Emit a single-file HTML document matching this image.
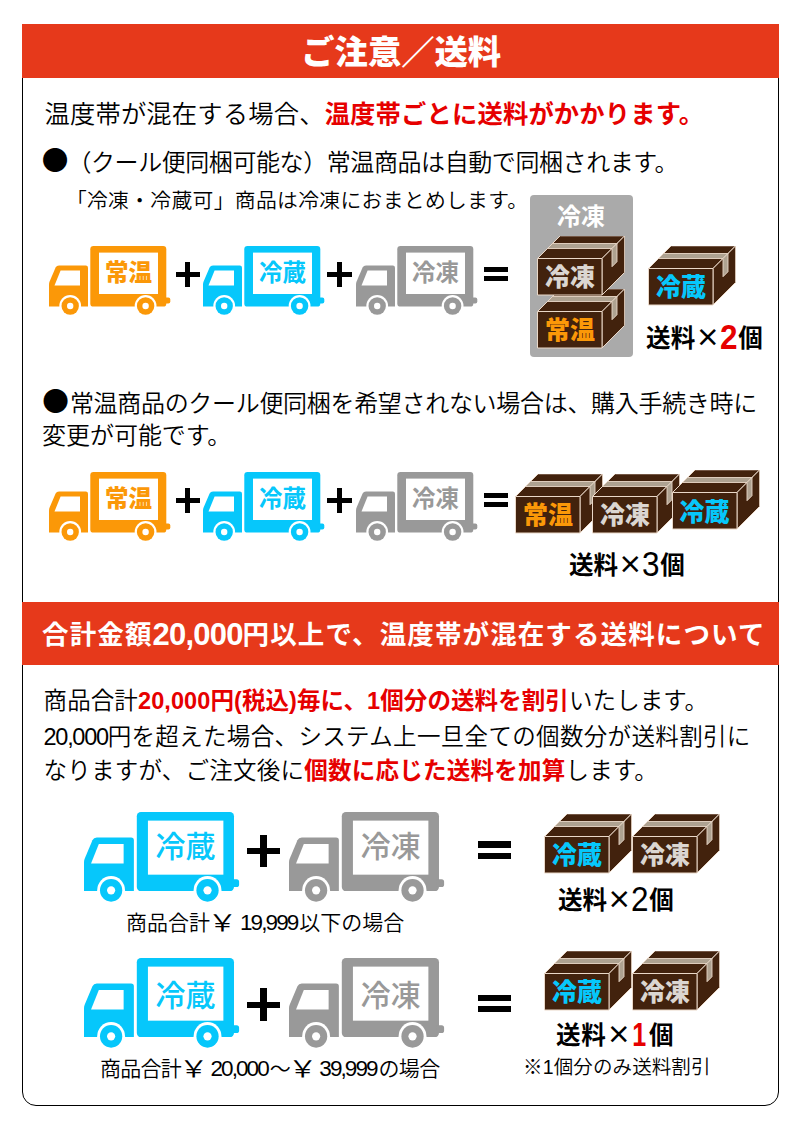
<!DOCTYPE html>
<html lang="ja">
<head>
<meta charset="utf-8">
<title>ご注意／送料</title>
<style>
html,body{margin:0;padding:0;background:#fff;}
body{width:800px;height:1135px;position:relative;overflow:hidden;
  font-family:"Liberation Sans","Noto Sans CJK JP",sans-serif;color:#000;}
.abs{position:absolute;}
.frame{position:absolute;left:22px;top:30px;width:755px;height:1073.5px;border:1px solid #000;border-radius:0 0 14px 14px;}
.hd{position:absolute;left:21.5px;width:757.5px;background:#e6391b;}
.w{color:#fff;}
.t{position:absolute;white-space:nowrap;line-height:1;}
.r{font-family:"Liberation Sans","Noto Sans CJK JP DemiLight","Noto Sans CJK JP",sans-serif;}
.red{color:#e60000;font-weight:700;font-family:"Liberation Sans","Noto Sans CJK JP",sans-serif;}
.b{font-weight:700;}
.sym{font-family:"Noto Sans CJK JP",sans-serif;}
.dot{font-family:"Noto Sans CJK JP",sans-serif;font-size:26.6px;display:inline-block;width:24.5px;text-indent:-1.2px;vertical-align:1px;line-height:24px;}
.truck{position:absolute;}
.orange{color:#fb9808;}
.cyan{color:#06c7fb;}
.gray{color:#999999;}
.lbl{position:absolute;white-space:nowrap;line-height:1;text-align:center;}
.op{position:absolute;background:#000;}
.box{position:absolute;}
.x{font-family:"Noto Sans CJK JP",sans-serif;font-weight:700;}
.n{font-weight:400;font-size:35px;vertical-align:-2.5px;margin:0 0 0 -1.5px;display:inline-block;transform:scaleX(.9);}
.n.red{font-weight:700;}
.n.one{font-size:33px;margin:0 0 0 -2px;transform:scaleX(.76);}
.boxt{position:absolute;white-space:nowrap;line-height:1;font-weight:900;text-align:center;}
.panel{position:absolute;left:529.5px;top:195px;width:103px;height:161.5px;background:#aaaaaa;border-radius:4px;}
#h2 .d{font-size:31px;vertical-align:-1px;letter-spacing:-0.8px;}
#l7 .d{letter-spacing:-1.3px;}
.cap .d{font-size:22.5px;letter-spacing:-1.9px;margin-right:1.9px;}
.yen{display:inline-block;transform:scale(1.4,1.1);margin:0 7.5px 0 1.5px;}
</style>
</head>
<body>
<svg width="0" height="0" style="position:absolute">
  <defs>
    <symbol id="truck" viewBox="0 0 122 72" overflow="visible">
      <rect x="41.3" y="0" width="76" height="60.6" rx="3.2" fill="currentColor"/>
      <rect x="50" y="6.6" width="59" height="41.4" fill="#fff"/>
      <rect x="115" y="51.5" width="6.3" height="6" rx="2" fill="currentColor"/>
      <path d="M0 60.6 V38.5 Q0 37 .6 35.6 L6.6 21.6 Q7.6 19.5 10 19.5 H36.8 Q39 19.5 39 21.7 V60.6 Z" fill="currentColor"/>
      <path d="M5.5 39.5 L11.6 24.5 H31 V39.5 Z" fill="#fff"/>
      <circle cx="21.2" cy="60" r="10.9" fill="#fff"/>
      <circle cx="21.2" cy="60" r="8.7" fill="currentColor"/>
      <circle cx="21.2" cy="60" r="3.2" fill="#fff"/>
      <circle cx="96.6" cy="60" r="10.9" fill="#fff"/>
      <circle cx="96.6" cy="60" r="8.7" fill="currentColor"/>
      <circle cx="96.6" cy="60" r="3.2" fill="#fff"/>
    </symbol>
    <symbol id="carton" viewBox="0 0 88 60" overflow="visible">
      <path d="M0.5 22.5 L23.2 -0.2 H87.7 L65 22.5 Z" fill="#42220d" stroke="#ead8c8" stroke-width="1" stroke-linejoin="round"/>
      <path d="M65 22.5 L87.7 -0.2 V36.3 L65 59 Z" fill="#42220d" stroke="#ead8c8" stroke-width="1" stroke-linejoin="round"/>
      <path d="M15.5 7.5 H80 L75 12.5 H10.5 Z" fill="#aea291" stroke="#ead8c8" stroke-width="0.9"/>
      <path d="M75 12.5 L80 7.5 V25.7 L75 30.7 Z" fill="#aea291" stroke="#ead8c8" stroke-width="0.9"/>
      <rect x="0.5" y="22.5" width="64.5" height="36.5" fill="#42220d" stroke="#ead8c8" stroke-width="1" stroke-linejoin="round"/>
    </symbol>
  </defs>
</svg>

<div class="frame"></div>
<div class="hd" style="top:24px;height:53.5px;"></div>
<div class="t w" id="h1" style="left:301.3px;top:36.0px;font-size:33.3px;letter-spacing:0.00px;font-weight:900;">ご注意／送料</div>
<div class="t r" id="l1" style="left:44.5px;top:101.5px;font-size:25.3px;letter-spacing:0.17px;">温度帯が混在する場合、<span class="red">温度帯ごとに送料がかかります。</span></div>
<div class="t r" id="l2" style="left:42.9px;top:146.5px;font-size:24px;letter-spacing:-0.42px;"><span class="dot">●</span>（クール便同梱可能な）常温商品は自動で同梱されます。</div>
<div class="t r" id="l3" style="left:65.9px;top:191.0px;font-size:20.8px;letter-spacing:0.32px;">「冷凍・冷蔵可」商品は冷凍におまとめします。</div>
<svg class="truck orange" style="left:49px;top:246px;" width="122" height="72"><use href="#truck"/></svg>
<div class="lbl orange" style="left:99px;top:261.7px;width:59px;font-size:23.5px;font-weight:900;">常温</div>
<svg class="truck cyan" style="left:203px;top:246px;" width="122" height="72"><use href="#truck"/></svg>
<div class="lbl cyan" style="left:253px;top:261.7px;width:59px;font-size:23.5px;font-weight:700;">冷蔵</div>
<svg class="truck gray" style="left:356px;top:246px;" width="122" height="72"><use href="#truck"/></svg>
<div class="lbl gray" style="left:406px;top:261.7px;width:59px;font-size:23.5px;font-weight:700;">冷凍</div>
<div class="op" style="left:175.6px;top:271.7px;width:24.5px;height:5.4px;"></div>
<div class="op" style="left:185.1px;top:262.1px;width:5.4px;height:24.5px;"></div>
<div class="op" style="left:327.4px;top:271.7px;width:24.5px;height:5.4px;"></div>
<div class="op" style="left:336.9px;top:262.1px;width:5.4px;height:24.5px;"></div>
<div class="op" style="left:483.7px;top:267px;width:24.5px;height:5.2px;"></div>
<div class="op" style="left:483.7px;top:275.6px;width:24.5px;height:5.2px;"></div>
<div class="panel"></div>
<div class="boxt" id="pt" style="left:529.5px;top:204.5px;width:103px;font-size:24px;font-weight:700;color:#fff;">冷凍</div>
<svg class="box" style="left:537px;top:288.5px;" width="88" height="60"><use href="#carton"/></svg>
<div class="boxt" style="left:537.5px;top:317.8px;width:65px;font-size:25px;color:#fb9808;">常温</div>
<svg class="box" style="left:537px;top:235.5px;" width="88" height="60"><use href="#carton"/></svg>
<div class="boxt" style="left:537.5px;top:264.8px;width:65px;font-size:25px;color:#dbd6d1;">冷凍</div>
<svg class="box" style="left:648px;top:245.5px;" width="88" height="60"><use href="#carton"/></svg>
<div class="boxt" style="left:648.5px;top:274.8px;width:65px;font-size:25px;color:#06c7fb;">冷蔵</div>
<div class="t b" id="s1" style="left:645.9px;top:319.0px;font-size:24.5px;letter-spacing:0.25px;">送料<span class="x">×</span><span class="n red">2</span>個</div>
<div class="t r" id="l4" style="left:43.4px;top:388.0px;font-size:24px;letter-spacing:-0.31px;"><span class="dot" style="margin-right:2px">●</span>常温商品のクール便同梱を希望されない場合は、購入手続き時に</div>
<div class="t r" id="l5" style="left:42.1px;top:424.0px;font-size:24px;letter-spacing:-0.05px;">変更が可能です。</div>
<svg class="truck orange" style="left:49px;top:472px;" width="122" height="72"><use href="#truck"/></svg>
<div class="lbl orange" style="left:99px;top:487.7px;width:59px;font-size:23.5px;font-weight:900;">常温</div>
<svg class="truck cyan" style="left:203px;top:472px;" width="122" height="72"><use href="#truck"/></svg>
<div class="lbl cyan" style="left:253px;top:487.7px;width:59px;font-size:23.5px;font-weight:700;">冷蔵</div>
<svg class="truck gray" style="left:356px;top:472px;" width="122" height="72"><use href="#truck"/></svg>
<div class="lbl gray" style="left:406px;top:487.7px;width:59px;font-size:23.5px;font-weight:700;">冷凍</div>
<div class="op" style="left:175.6px;top:497.7px;width:24.5px;height:5.4px;"></div>
<div class="op" style="left:185.1px;top:488.1px;width:5.4px;height:24.5px;"></div>
<div class="op" style="left:327.4px;top:497.7px;width:24.5px;height:5.4px;"></div>
<div class="op" style="left:336.9px;top:488.1px;width:5.4px;height:24.5px;"></div>
<div class="op" style="left:483.7px;top:493px;width:24.5px;height:5.2px;"></div>
<div class="op" style="left:483.7px;top:501.6px;width:24.5px;height:5.2px;"></div>
<svg class="box" style="left:515px;top:473.7px;" width="88" height="60"><use href="#carton"/></svg>
<div class="boxt" style="left:515.5px;top:503.0px;width:65px;font-size:25px;color:#fb9808;">常温</div>
<svg class="box" style="left:592px;top:473.7px;" width="88" height="60"><use href="#carton"/></svg>
<div class="boxt" style="left:592.5px;top:503.0px;width:65px;font-size:25px;color:#dbd6d1;">冷凍</div>
<svg class="box" style="left:671.5px;top:470.2px;" width="88" height="60"><use href="#carton"/></svg>
<div class="boxt" style="left:672.0px;top:499.5px;width:65px;font-size:25px;color:#06c7fb;">冷蔵</div>
<div class="t b" id="s2" style="left:568.9px;top:545.5px;font-size:24.5px;letter-spacing:0.00px;">送料<span class="x">×</span><span class="n">3</span>個</div>
<div class="hd" style="top:602px;height:63.3px;"></div>
<div class="t b w" id="h2" style="left:42.1px;top:619.0px;font-size:26.5px;letter-spacing:1.12px;">合計金額<span class="d">20,000</span>円以上で、温度帯が混在する送料について</div>
<div class="t r" id="l6" style="left:43.6px;top:689.7px;font-size:23.5px;letter-spacing:0.09px;">商品合計<span class="red"><span class="d">20,000</span>円(税込)毎に、<span class="d">1</span>個分の送料を割引</span>いたします。</div>
<div class="t r" id="l7" style="left:43.6px;top:725.7px;font-size:23.5px;letter-spacing:0.34px;"><span class="d">20,000</span>円を超えた場合、システム上一旦全ての個数分が送料割引に</div>
<div class="t r" id="l8" style="left:43.6px;top:759.7px;font-size:23.5px;letter-spacing:0.24px;">なりますが、ご注文後に<span class="red">個数に応じた送料を加算</span>します。</div>
<svg class="truck cyan" style="left:83.7px;top:811.5px;" width="156" height="94" viewBox="0 0 122 72" preserveAspectRatio="none"><use href="#truck" width="122" height="72"/></svg>
<div class="lbl cyan" style="left:148.0px;top:831.8px;width:75px;font-size:30px;font-weight:500;">冷蔵</div>
<svg class="truck gray" style="left:289px;top:811.5px;" width="156" height="94" viewBox="0 0 122 72" preserveAspectRatio="none"><use href="#truck" width="122" height="72"/></svg>
<div class="lbl gray" style="left:353.3px;top:831.8px;width:75px;font-size:30px;font-weight:500;">冷凍</div>
<div class="op" style="left:247.1px;top:847.9px;width:32.5px;height:6.4px;"></div>
<div class="op" style="left:260.2px;top:834.8px;width:6.4px;height:32.5px;"></div>
<div class="op" style="left:478px;top:841.3px;width:32.5px;height:6.3px;"></div>
<div class="op" style="left:478px;top:852.6px;width:32.5px;height:6.3px;"></div>
<svg class="box" style="left:544px;top:813.5px;" width="88" height="60"><use href="#carton"/></svg>
<div class="boxt" style="left:544.5px;top:842.8px;width:65px;font-size:25px;color:#06c7fb;">冷蔵</div>
<svg class="box" style="left:632px;top:813.5px;" width="88" height="60"><use href="#carton"/></svg>
<div class="boxt" style="left:632.5px;top:842.8px;width:65px;font-size:25px;color:#dbd6d1;">冷凍</div>
<div class="t b" id="s3" style="left:557.9px;top:881.0px;font-size:24.5px;letter-spacing:0.00px;">送料<span class="x">×</span><span class="n">2</span>個</div>
<div class="t r cap" id="c1" style="left:126.0px;top:911.5px;font-size:21px;letter-spacing:-0.00px;">商品合計<span class="yen">￥</span><span class="d">19,999</span>以下の場合</div>
<svg class="truck cyan" style="left:83.7px;top:958px;" width="156" height="94" viewBox="0 0 122 72" preserveAspectRatio="none"><use href="#truck" width="122" height="72"/></svg>
<div class="lbl cyan" style="left:148.0px;top:981.3px;width:75px;font-size:30px;font-weight:500;">冷蔵</div>
<svg class="truck gray" style="left:289px;top:958px;" width="156" height="94" viewBox="0 0 122 72" preserveAspectRatio="none"><use href="#truck" width="122" height="72"/></svg>
<div class="lbl gray" style="left:353.3px;top:981.3px;width:75px;font-size:30px;font-weight:500;">冷凍</div>
<div class="op" style="left:247.1px;top:1001.5px;width:32.5px;height:6.4px;"></div>
<div class="op" style="left:260.2px;top:988.4px;width:6.4px;height:32.5px;"></div>
<div class="op" style="left:478px;top:994.9px;width:32.5px;height:6.3px;"></div>
<div class="op" style="left:478px;top:1006.2px;width:32.5px;height:6.3px;"></div>
<svg class="box" style="left:544px;top:950.5px;" width="88" height="60"><use href="#carton"/></svg>
<div class="boxt" style="left:544.5px;top:979.8px;width:65px;font-size:25px;color:#06c7fb;">冷蔵</div>
<svg class="box" style="left:632px;top:950.5px;" width="88" height="60"><use href="#carton"/></svg>
<div class="boxt" style="left:632.5px;top:979.8px;width:65px;font-size:25px;color:#dbd6d1;">冷凍</div>
<div class="t b" id="s4" style="left:556.1px;top:1017.5px;font-size:24.5px;letter-spacing:0.75px;">送料<span class="x">×</span><span class="n red one">1</span>個</div>
<div class="t r cap" id="c2" style="left:100.0px;top:1058.0px;font-size:21px;letter-spacing:-0.72px;">商品合計<span class="yen">￥</span><span class="d">20,000</span>～<span class="yen">￥</span><span class="d">39,999</span>の場合</div>
<div class="t r" id="note" style="left:523.1px;top:1058.0px;font-size:19.5px;letter-spacing:0.11px;">※<span class="d">1</span>個分のみ送料割引</div>
</body>
</html>
